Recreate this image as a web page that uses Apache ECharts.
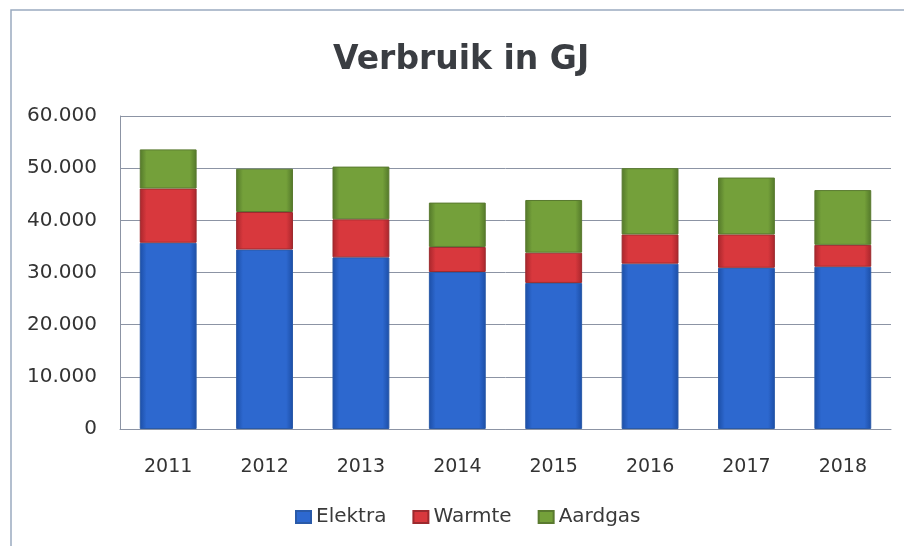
<!DOCTYPE html>
<html>
<head>
<meta charset="utf-8">
<script src="https://cdn.jsdelivr.net/npm/echarts@6/dist/echarts.min.js"></script>
<style>
  html, body { margin: 0; padding: 0; background: #fff; }
  #chart { width: 904px; height: 546px; }
</style>
</head>
<body>
<div id="chart"></div>
<script>
// data (GJ)
const years = ['2011', '2012', '2013', '2014', '2015', '2016', '2017', '2018']
const elektra = [35700, 34400, 32900, 30100, 28000, 31700, 30900, 31100]
const warmte = [10400, 7200, 7300, 4800, 5800, 5600, 6400, 4200]
const aardgas = [7500, 8300, 10100, 8500, 10100, 12700, 10900, 10500]
const yTicks = [0, 10000, 20000, 30000, 40000, 50000, 60000]

function fmt(v) {
  if (v === 0) return '0'
  return String(v).replace(/\B(?=(\d{3})+(?!\d))/g, '.')
}

// bevel-ish fill: dark edges, lighter middle
function bevel(edge, mid) {
  return new echarts.graphic.LinearGradient(0, 0, 1, 0, [
    { offset: 0, color: edge },
    { offset: 0.12, color: mid },
    { offset: 0.88, color: mid },
    { offset: 1, color: edge }
  ])
}

const chart = echarts.init(document.getElementById('chart'))

chart.setOption({
  animation: false,
  textStyle: { fontFamily: 'DejaVu Sans' },
  title: {
    text: 'Verbruik in GJ',
    left: 333,
    top: 44,
    padding: 0,
    textStyle: { fontFamily: 'DejaVu Sans', fontWeight: 'bold', fontSize: 33, color: '#3a3d42' }
  },
  legend: {
    top: 507,
    left: 295,
    padding: 0,
    itemWidth: 15,
    itemHeight: 12,
    itemGap: 26,
    icon: 'rect',
    textStyle: { fontSize: 20, color: '#3a3a3a' },
    data: ['Elektra', 'Warmte', 'Aardgas']
  },
  grid: {
    left: 120,
    right: 13,
    top: 116,
    bottom: 117
  },
  graphic: [{
    type: 'polyline',
    shape: { points: [[11, 546], [11, 10], [904, 10]] },
    style: { stroke: '#9aaac0', lineWidth: 1.5, fill: null }
  }],
  xAxis: {
    type: 'category',
    data: years,
    axisLine: { lineStyle: { color: '#8c94a4' } },
    axisTick: { show: false },
    axisLabel: { fontSize: 19, color: '#333', margin: 29 }
  },
  yAxis: {
    type: 'value',
    min: yTicks[0],
    max: yTicks[yTicks.length - 1],
    interval: 10000,
    axisLine: { show: true, lineStyle: { color: '#8c94a4' } },
    axisTick: { show: false },
    splitLine: { lineStyle: { color: '#8c94a4', width: 1 } },
    axisLabel: { fontSize: 20, color: '#333', margin: 23, formatter: fmt }
  },
  series: [{
    name: 'Elektra',
    type: 'bar',
    stack: 'gj',
    barWidth: '59%',
    data: elektra,
    itemStyle: { color: bevel('#1c4ea6', '#2d68cf'), borderColor: '#2a5aa8', borderWidth: 1 }
  }, {
    name: 'Warmte',
    type: 'bar',
    stack: 'gj',
    data: warmte,
    itemStyle: { color: bevel('#a8262c', '#d8383d'), borderColor: '#9c2a2e', borderWidth: 1 }
  }, {
    name: 'Aardgas',
    type: 'bar',
    stack: 'gj',
    data: aardgas,
    itemStyle: { color: bevel('#53782a', '#74a03a'), borderColor: '#5a7a30', borderWidth: 1 }
  }]
})
</script>
</body>
</html>
